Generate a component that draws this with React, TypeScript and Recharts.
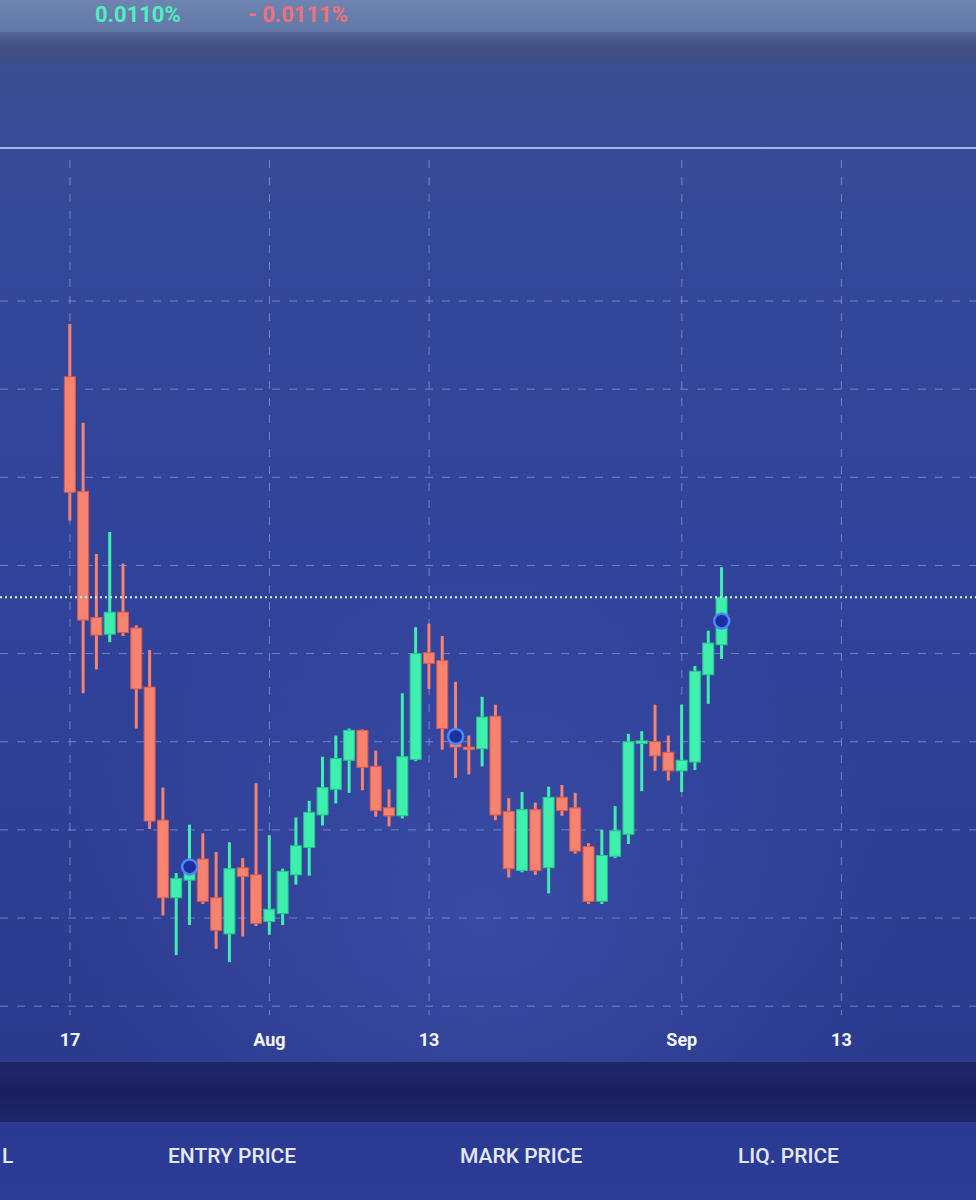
import { ComposedChart, Bar, Scatter, XAxis, YAxis, CartesianGrid, ReferenceLine } from 'recharts';

// daily candles, Jul 17 .. Sep 4 (day index 0 = Jul 17)
const open = [
  81.4, 68.4, 54.1, 52.2, 54.7, 52.9, 46.2, 31.1, 22.3, 24.3,
  26.7, 22.3, 18.2, 25.7, 24.9, 19.6, 20.5, 24.9, 28.0, 31.7,
  34.6, 37.9, 41.3, 37.2, 32.5, 31.6, 38.0, 50.1, 49.2, 41.0,
  39.4, 39.2, 42.9, 32.1, 25.4, 32.3, 25.7, 33.7, 32.5, 28.1,
  21.9, 27.0, 29.5, 39.8, 40.0, 38.8, 36.7, 37.7, 47.6, 51.0,
];
const close = [
  68.3, 53.8, 52.1, 54.7, 52.4, 46.0, 31.0, 22.3, 24.5, 26.1,
  21.9, 18.6, 25.6, 24.7, 19.4, 21.0, 25.3, 28.2, 32.0, 34.8,
  38.1, 41.3, 37.1, 32.2, 31.6, 38.3, 50.0, 48.9, 41.5, 39.4,
  39.1, 42.8, 31.7, 25.6, 32.3, 25.4, 33.7, 32.2, 27.6, 21.9,
  27.1, 29.9, 40.0, 40.1, 38.4, 36.7, 37.9, 48.0, 51.2, 56.4,
];
const high = [
  87.4, 76.2, 61.3, 63.8, 60.2, 53.2, 50.4, 34.8, 25.1, 30.6,
  29.6, 27.5, 28.6, 26.8, 35.3, 29.4, 25.6, 31.4, 33.3, 38.3,
  40.7, 41.5, 41.4, 39.0, 34.6, 45.5, 53.0, 53.4, 52.0, 46.8,
  40.7, 45.1, 44.2, 33.6, 34.3, 33.1, 34.9, 35.1, 34.2, 28.5,
  30.0, 32.7, 40.9, 41.2, 44.2, 40.7, 44.2, 48.6, 52.6, 59.8,
];
const low = [
  65.1, 45.5, 48.2, 51.3, 52.0, 41.5, 30.1, 20.3, 15.8, 19.2,
  21.6, 16.5, 15.0, 17.9, 19.1, 18.1, 19.2, 23.8, 24.8, 30.5,
  33.0, 34.2, 34.5, 31.5, 30.4, 31.3, 37.8, 46.0, 39.1, 35.9,
  36.3, 37.2, 31.1, 24.6, 25.2, 24.9, 22.8, 31.6, 27.3, 21.6,
  21.6, 26.8, 28.4, 34.4, 36.7, 35.6, 34.3, 36.8, 44.3, 49.4,
];

// trade markers
const markerDays = [9, 29, 49];
const markerPrices = [25.8, 40.6, 53.7];

const tickDays = [0, 15, 27, 46, 58];
const tickLabels = ['17', 'Aug', '13', 'Sep', '13'];
const priceTicks = [10, 20, 30, 40, 50, 60, 70, 80, 90];

const data = open.map((o, i) => ({ day: i, open: o, close: close[i], high: high[i], low: low[i] }));
const markers = markerDays.map((d, i) => ({ day: d, price: markerPrices[i] }));

const UP = '#3fefae';
const DOWN = '#f5836f';

function Candle(props: any) {
  const { x, y, width, height, payload } = props;
  const { open: o, close: c, high: h, low: l } = payload;
  const span = h - l || 1;
  const toY = (v: number) => y + ((h - v) / span) * height;
  const up = c >= o;
  const color = up ? UP : DOWN;
  const cx = x + width / 2;
  const top = toY(Math.max(o, c));
  const bot = toY(Math.min(o, c));
  return (
    <g>
      <line x1={cx} x2={cx} y1={y} y2={y + height} stroke={color} strokeWidth={3} />
      <rect
        x={x}
        y={top}
        width={width}
        height={Math.max(bot - top, 2.5)}
        fill={color}
        stroke={up ? '#25c48b' : '#de5a4c'}
        strokeWidth={1}
      />
    </g>
  );
}

function Marker(props: any) {
  const { cx, cy } = props;
  return <circle cx={cx} cy={cy} r={7.5} fill="#1c2f9c" stroke="#4a86ff" strokeWidth={2.5} />;
}

const labelStyle = {
  position: 'absolute' as const,
  top: 1144,
  fontSize: 21,
  fontWeight: 500,
  color: '#e4e9ff',
  fontFamily: 'Roboto, sans-serif',
};

export default function App() {
  return (
    <div
      style={{
        position: 'absolute',
        left: 0,
        top: 0,
        width: 976,
        height: 1200,
        overflow: 'hidden',
        fontFamily: 'Roboto, sans-serif',
        background: '#2f3f95',
      }}
    >
      <div style={{ position: 'absolute', left: 0, top: 0, width: 976, height: 32, background: 'linear-gradient(#6f84b0, #6177a6)' }} />
      <div style={{ position: 'absolute', left: 95, top: 2, fontSize: 22, fontWeight: 700, color: '#4df0c0' }}>0.0110%</div>
      <div style={{ position: 'absolute', left: 248, top: 2, fontSize: 22, fontWeight: 700, color: '#f2707a' }}>- 0.0111%</div>
      <div style={{ position: 'absolute', left: 0, top: 32, width: 976, height: 30, background: 'linear-gradient(#54659a, #434f82 45%, #3e4e88)' }} />
      <div
        style={{
          position: 'absolute',
          left: 0,
          top: 62,
          width: 976,
          height: 1000,
          background:
            'radial-gradient(ellipse 420px 380px at 480px 860px, rgba(80,100,200,0.35), rgba(80,100,200,0) 100%), linear-gradient(180deg, #3c4f94 0%, #34489a 18%, #30429a 55%, #2b3a8d 100%)',
        }}
      />
      <div style={{ position: 'absolute', left: 0, top: 147, width: 976, height: 2, background: '#a3b5ee' }} />
      <div style={{ position: 'absolute', left: 0, top: 150 }}>
        <ComposedChart width={976} height={910} data={data} margin={{ top: 10, right: 0, bottom: 0, left: 0 }}>
          <CartesianGrid
            stroke="#9aa6dc"
            strokeOpacity={0.65}
            strokeDasharray="8 9"
            horizontalValues={priceTicks}
            verticalValues={tickDays}
          />
          <XAxis
            dataKey="day"
            type="number"
            domain={[-5.26, 68.12]}
            ticks={tickDays}
            interval={0}
            allowDataOverflow
            tickFormatter={(v: number) => tickLabels[tickDays.indexOf(v)]}
            axisLine={false}
            tickLine={false}
            height={45}
            tickMargin={12}
            tick={{ fill: '#f4f6ff', fontSize: 18, fontWeight: 700, fontFamily: 'Roboto, sans-serif' }}
          />
          <YAxis hide type="number" domain={[9, 106]} ticks={priceTicks} allowDataOverflow />
          <ReferenceLine y={close[close.length - 1]} stroke="#eef1ff" strokeWidth={2} strokeDasharray="2 3" />
          <Bar dataKey={(d: any) => [d.low, d.high]} barSize={11} shape={<Candle />} isAnimationActive={false} />
          <Scatter data={markers} dataKey="price" shape={<Marker />} isAnimationActive={false} />
        </ComposedChart>
      </div>
      <div style={{ position: 'absolute', left: 0, top: 1062, width: 976, height: 60, background: 'linear-gradient(#1f2668, #1a205e 50%, #1e2666)' }} />
      <div style={{ position: 'absolute', left: 0, top: 1122, width: 976, height: 78, background: 'linear-gradient(#2a3992, #2d3d98)' }} />
      <div style={{ ...labelStyle, left: 2 }}>L</div>
      <div style={{ ...labelStyle, left: 168 }}>ENTRY PRICE</div>
      <div style={{ ...labelStyle, left: 460 }}>MARK PRICE</div>
      <div style={{ ...labelStyle, left: 738 }}>LIQ. PRICE</div>
    </div>
  );
}
